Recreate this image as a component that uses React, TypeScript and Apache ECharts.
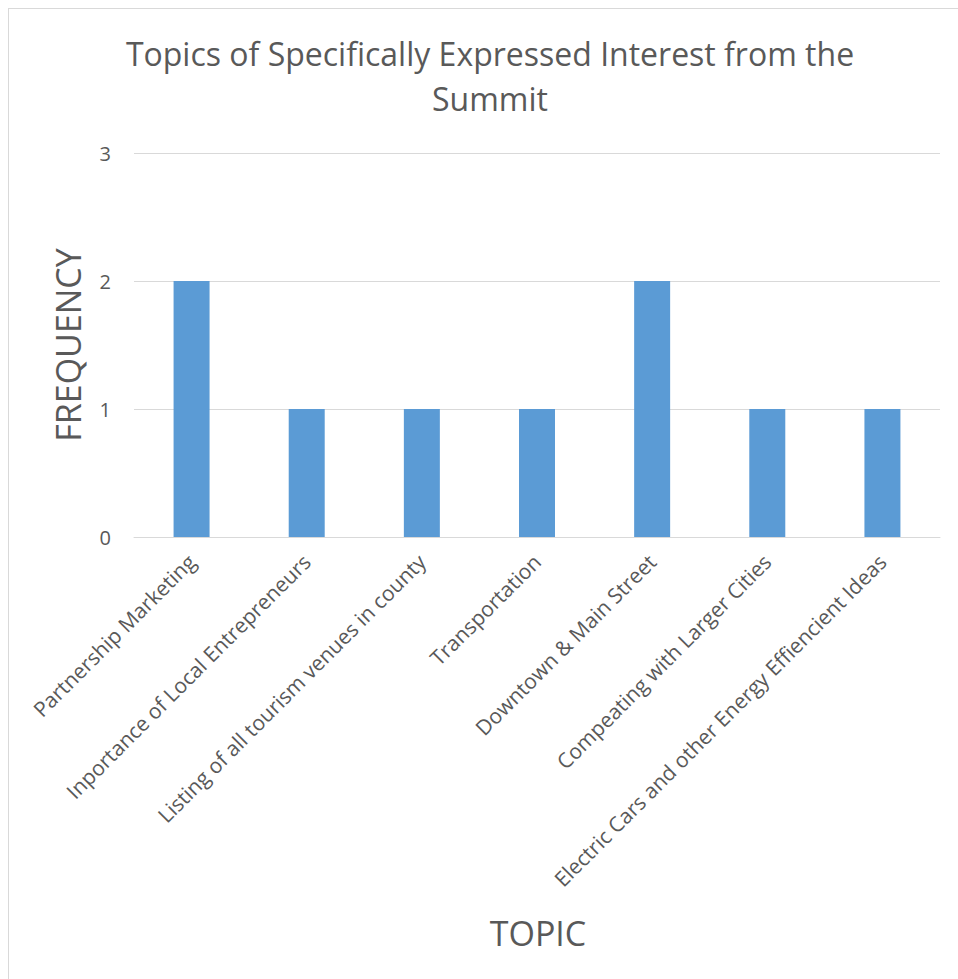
import React, { useEffect, useRef } from "react";
import * as echarts from "echarts";

const categories = [
  "Partnership Marketing",
  "Inportance of Local Entrepreneurs",
  "Listing of all tourism venues in county",
  "Transportation",
  "Downtown & Main Street",
  "Compeating with Larger Cities",
  "Electric Cars and other Energy Effiencient Ideas",
];
const frequency = [2, 1, 1, 1, 2, 1, 1];
const yTicks = { min: 0, max: 3, interval: 1 };
const titleLines = ["Topics of Specifically Expressed Interest from the", "Summit"];
const xName = "TOPIC";
const yName = "FREQUENCY";

const FONT = "'Open Sans', sans-serif";
const TEXT = "#595959";

export default function App() {
  const ref = useRef<HTMLDivElement>(null);
  useEffect(() => {
    if (!ref.current) return;
    const chart = echarts.init(ref.current, null, { renderer: "svg" });
    chart.setOption({
      animation: false,
      backgroundColor: "#ffffff",
      grid: { left: 125, right: 18, top: 144, bottom: 442 },
      xAxis: {
        type: "category",
        data: categories,
        axisLine: { show: true, lineStyle: { color: "#d9d9d9", width: 1 } },
        axisTick: { show: false },
        axisLabel: {
          interval: 0,
          rotate: 45,
          margin: 21,
          fontSize: 21,
          fontFamily: FONT,
          color: TEXT,
        },
      },
      yAxis: {
        type: "value",
        min: yTicks.min,
        max: yTicks.max,
        interval: yTicks.interval,
        axisLine: { show: false },
        axisTick: { show: false },
        axisLabel: { margin: 23, fontSize: 20, fontFamily: FONT, color: TEXT },
        splitLine: { lineStyle: { color: "#d9d9d9", width: 1 } },
      },
      series: [
        {
          type: "bar",
          data: frequency,
          barWidth: 36,
          itemStyle: { color: "#5b9bd5" },
        },
      ],
      graphic: [
        {
          type: "text",
          x: 481,
          y: 67,
          style: {
            text: titleLines.join("\n"),
            fontSize: 32,
            lineHeight: 45,
            fontFamily: FONT,
            fill: TEXT,
            align: "center",
            verticalAlign: "middle",
          },
        },
        {
          type: "text",
          x: 529,
          y: 924,
          style: {
            text: xName,
            fontSize: 34,
            fontFamily: FONT,
            fill: TEXT,
            align: "center",
            verticalAlign: "middle",
          },
        },
        {
          type: "text",
          x: 59,
          y: 336,
          rotation: Math.PI / 2,
          style: {
            text: yName,
            fontSize: 34,
            fontFamily: FONT,
            fill: TEXT,
            align: "center",
            verticalAlign: "middle",
          },
        },
      ],
    });
    return () => chart.dispose();
  }, []);
  return (
    <div
      style={{
        position: "absolute",
        left: 8,
        top: 8,
        width: 950,
        height: 971,
        boxSizing: "border-box",
        borderTop: "1px solid #d9d9d9",
        borderLeft: "1px solid #d9d9d9",
        overflow: "hidden",
      }}
    >
      <div ref={ref} style={{ width: 949, height: 970 }} />
    </div>
  );
}
